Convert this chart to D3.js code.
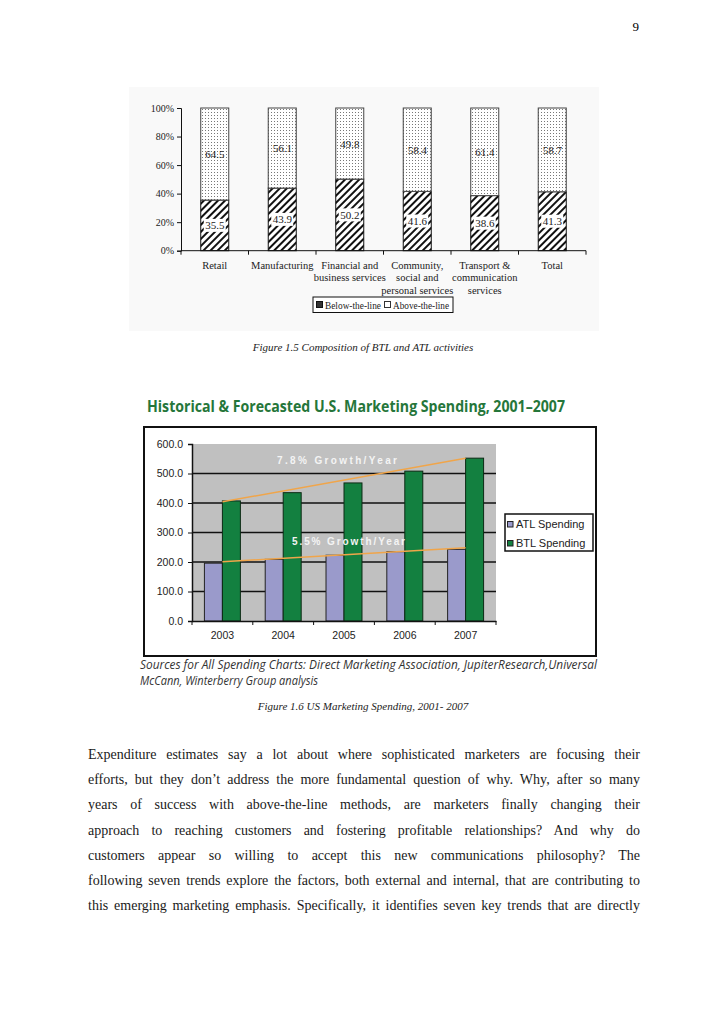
<!DOCTYPE html>
<html>
<head>
<meta charset="utf-8">
<title>BTL and ATL spending</title>
<style>
  body { margin: 0; background: #fff; }
  .page { position: relative; width: 728px; height: 1030px; overflow: hidden; }
  svg { position: absolute; left: 0; top: 0; }
  .serif { font-family: 'Liberation Serif', 'Times New Roman', serif; }
  .sans { font-family: 'Liberation Sans', Arial, sans-serif; }
  .body-text {
    position: absolute; left: 88px; top: 742px; width: 552px;
    font-family: 'Liberation Serif', 'Times New Roman', serif;
    font-size: 14px; line-height: 25.2px; color: #1a1a1a;
  }
  .body-text div { text-align: justify; text-align-last: justify; white-space: nowrap; }
</style>
</head>
<body>
<div class="page">
  <svg width="728" height="1030"></svg>
  <div class="body-text"></div>
</div>

<script src="https://d3js.org/d3.v7.min.js"></script>
<script>
// ---- figure 1.5 data
const sectors = ["Retail", "Manufacturing", "Financial", "Community", "Transport", "Total"];
const sectorLines = [
  ["Retail"],
  ["Manufacturing"],
  ["Financial and", "business services"],
  ["Community,", "social and", "personal services"],
  ["Transport &", "communication", "services"],
  ["Total"]
];
const belowLine = [35.5, 43.9, 50.2, 41.6, 38.6, 41.3];
const aboveLine = [64.5, 56.1, 49.8, 58.4, 61.4, 58.7];
const pctTicks = [0, 20, 40, 60, 80, 100];

// ---- figure 1.6 data
const years = ["2003", "2004", "2005", "2006", "2007"];
const atlSpending = [196, 209, 223, 235, 243];
const btlSpending = [407, 435, 468, 508, 552];
const spendTicks = [0, 100, 200, 300, 400, 500, 600];
const btlTrend = [404, 552];   // 2003 -> 2007
const atlTrend = [201, 248];

const bodyLines = [
  "Expenditure estimates say a lot about where sophisticated marketers are focusing their",
  "efforts, but they don\u2019t address the more fundamental question of why. Why, after so  many",
  "years of success with above-the-line methods, are marketers finally changing their",
  "approach to reaching customers and fostering profitable relationships? And why do",
  "customers appear so willing to accept this new communications philosophy? The",
  "following seven trends explore the factors, both external and internal, that are contributing to",
  "this emerging marketing emphasis. Specifically, it identifies seven key trends that are directly"
];

let svg = d3.select("svg")

// page number
svg.append("text").attr("class", "serif")
  .attr("x", 639).attr("y", 31).attr("text-anchor", "end")
  .style("font-size", "13px").text("9")

// ================= figure 1.5 =================
let defs = svg.append("defs")
let hatch = defs.append("pattern")
  .attr("id", "hatch").attr("patternUnits", "userSpaceOnUse")
  .attr("width", 5).attr("height", 5)
  .attr("patternTransform", "rotate(45)")
hatch.append("rect").attr("width", 5).attr("height", 5).attr("fill", "#fff")
hatch.append("line").attr("x1", 1).attr("x2", 1).attr("y1", 0).attr("y2", 5)
  .attr("stroke", "#111").attr("stroke-width", 2)

let dots = defs.append("pattern")
  .attr("id", "dots").attr("patternUnits", "userSpaceOnUse")
  .attr("width", 3).attr("height", 3)
dots.append("rect").attr("width", 3).attr("height", 3).attr("fill", "#fff")
dots.append("rect").attr("x", 1).attr("y", 1).attr("width", 1).attr("height", 1).attr("fill", "#777")

svg.append("rect")
  .attr("x", 129).attr("y", 87).attr("width", 470).attr("height", 244)
  .attr("fill", "#f9f9f9")

let x1 = d3.scaleBand()
  .domain(sectors)
  .range([181, 586])
  .paddingInner(0.585)
  .paddingOuter(0.2925)

let y1 = d3.scaleLinear()
  .domain([0, 100])
  .range([250.7, 108])

let g1 = svg.append("g")

// stacked bars
let f1 = sectors.map((s, i) => ({ s, below: belowLine[i], above: aboveLine[i], lines: sectorLines[i] }))

g1.selectAll(".below").data(f1).join("rect")
  .attr("x", d => x1(d.s)).attr("width", x1.bandwidth())
  .attr("y", d => y1(d.below)).attr("height", d => y1(0) - y1(d.below))
  .attr("fill", "url(#hatch)").attr("stroke", "#111").attr("stroke-width", 1)

g1.selectAll(".above").data(f1).join("rect")
  .attr("x", d => x1(d.s)).attr("width", x1.bandwidth())
  .attr("y", d => y1(100)).attr("height", d => y1(d.below) - y1(100))
  .attr("fill", "url(#dots)").attr("stroke", "#444").attr("stroke-width", 1)

// value labels
f1.forEach(d => {
  let cx = x1(d.s) + x1.bandwidth() / 2
  let yb = y1(d.below / 2)
  g1.append("rect").attr("x", cx - 11).attr("y", yb - 6.5).attr("width", 22).attr("height", 13).attr("fill", "#fff")
  g1.append("text").attr("class", "serif").attr("x", cx).attr("y", yb + 4)
    .attr("text-anchor", "middle").style("font-size", "11px").attr("fill", "#222")
    .text(d.below)
  let ya = y1(d.below + d.above / 2)
  g1.append("text").attr("class", "serif").attr("x", cx).attr("y", ya + 4)
    .attr("text-anchor", "middle").style("font-size", "11px").attr("fill", "#222")
    .text(d.above)
})

// y axis
let y1Axis = g1.append("g")
  .attr("transform", "translate(181,0)")
  .call(d3.axisLeft(y1).tickValues(pctTicks).tickSize(4).tickPadding(3).tickFormat(d => d + "%"))
y1Axis.select(".domain").attr("stroke", "#111")
y1Axis.selectAll("line").attr("stroke", "#111")
y1Axis.selectAll("text").attr("class", "serif").style("font-size", "10px").attr("fill", "#222")

// x axis (ticks between categories)
let x1Axis = g1.append("g").attr("transform", `translate(0,${y1(0)})`)
x1Axis.append("line").attr("x1", 181).attr("x2", 586).attr("stroke", "#111")
d3.range(sectors.length + 1).forEach(i => {
  let xx = 181 + i * x1.step()
  x1Axis.append("line").attr("x1", xx).attr("x2", xx).attr("y1", 0).attr("y2", 4).attr("stroke", "#111")
})
f1.forEach(d => {
  let t = x1Axis.append("text").attr("class", "serif")
    .attr("text-anchor", "middle").style("font-size", "10.5px").attr("fill", "#222")
  d.lines.forEach((ln, k) => {
    t.append("tspan").attr("x", x1(d.s) + x1.bandwidth() / 2).attr("y", 18 + k * 12.5).text(ln)
  })
})

// legend
let leg1 = g1.append("g")
leg1.append("rect").attr("x", 313).attr("y", 297).attr("width", 140).attr("height", 15.5)
  .attr("fill", "#fff").attr("stroke", "#111")
leg1.append("rect").attr("x", 316.5).attr("y", 301.5).attr("width", 6).attr("height", 6)
  .attr("fill", "#333").attr("stroke", "#111")
leg1.append("text").attr("class", "serif").attr("x", 325).attr("y", 308.5)
  .style("font-size", "10.5px").attr("fill", "#222")
  .attr("textLength", 56).attr("lengthAdjust", "spacingAndGlyphs").text("Below-the-line")
leg1.append("rect").attr("x", 384.5).attr("y", 301.5).attr("width", 6).attr("height", 6)
  .attr("fill", "#fff").attr("stroke", "#333")
leg1.append("text").attr("class", "serif").attr("x", 393).attr("y", 308.5)
  .style("font-size", "10.5px").attr("fill", "#222")
  .attr("textLength", 56).attr("lengthAdjust", "spacingAndGlyphs").text("Above-the-line")

svg.append("text").attr("class", "serif")
  .attr("x", 363).attr("y", 351).attr("text-anchor", "middle")
  .style("font-size", "11px").style("font-style", "italic").attr("fill", "#222")
  .text("Figure 1.5 Composition of BTL and ATL activities")

// ================= figure 1.6 =================
svg.append("text")
  .attr("x", 147).attr("y", 412)
  .style("font-family", "'Open Sans', 'Noto Sans', sans-serif")
  .style("font-size", "16px").style("font-weight", 700).attr("fill", "#25763a")
  .attr("textLength", 418).attr("lengthAdjust", "spacingAndGlyphs")
  .text("Historical & Forecasted U.S. Marketing Spending, 2001\u20132007")

svg.append("rect")
  .attr("x", 144).attr("y", 427).attr("width", 452).attr("height", 229)
  .attr("fill", "#fff").attr("stroke", "#111").attr("stroke-width", 2)

let x2 = d3.scaleBand().domain(years).range([192, 496])
let xSub = d3.scaleBand().domain(["ATL", "BTL"]).range([0, x2.bandwidth()]).paddingOuter(0.69)
let y2 = d3.scaleLinear().domain([0, 600]).range([621, 444])

let g2 = svg.append("g")
g2.append("rect").attr("x", 192).attr("y", y2(600)).attr("width", 304).attr("height", y2(0) - y2(600))
  .attr("fill", "#c0c0c0")

// gridlines
g2.selectAll(".grid").data(spendTicks.filter(d => d > 0 && d < 600)).join("line")
  .attr("x1", 192).attr("x2", 496)
  .attr("y1", d => y2(d)).attr("y2", d => y2(d))
  .attr("stroke", "#111").attr("stroke-width", 1.5)

let f2 = years.map((yr, i) => ({ yr, atl: atlSpending[i], btl: btlSpending[i] }))

g2.selectAll(".atl").data(f2).join("rect")
  .attr("x", d => x2(d.yr) + xSub("ATL")).attr("width", xSub.bandwidth())
  .attr("y", d => y2(d.atl)).attr("height", d => y2(0) - y2(d.atl))
  .attr("fill", "#9a9acb").attr("stroke", "#222").attr("stroke-width", 1)

g2.selectAll(".btl").data(f2).join("rect")
  .attr("x", d => x2(d.yr) + xSub("BTL")).attr("width", xSub.bandwidth())
  .attr("y", d => y2(d.btl)).attr("height", d => y2(0) - y2(d.btl))
  .attr("fill", "#138040").attr("stroke", "#0c2a14").attr("stroke-width", 1)

// trend lines
let cx = yr => x2(yr) + x2.bandwidth() / 2
const first = years[0], last = years[years.length - 1]
g2.append("line")
  .attr("x1", cx(first)).attr("y1", y2(btlTrend[0]))
  .attr("x2", cx(last)).attr("y2", y2(btlTrend[1]))
  .attr("stroke", "#f0a54a").attr("stroke-width", 1.5)
g2.append("line")
  .attr("x1", cx(first)).attr("y1", y2(atlTrend[0]))
  .attr("x2", cx(last)).attr("y2", y2(atlTrend[1]))
  .attr("stroke", "#f0a54a").attr("stroke-width", 1.5)

g2.append("text").attr("class", "sans")
  .attr("x", 277).attr("y", 464)
  .style("font-size", "10px").style("font-weight", 700).attr("fill", "#f4f4f4")
  .attr("textLength", 120).attr("lengthAdjust", "spacing")
  .text("7.8%  Growth/Year")
g2.append("text").attr("class", "sans")
  .attr("x", 292).attr("y", 545)
  .style("font-size", "10px").style("font-weight", 700).attr("fill", "#f4f4f4")
  .attr("textLength", 113).attr("lengthAdjust", "spacing")
  .text("5.5% Growth/Year")

// axes
let y2Axis = g2.append("g").attr("transform", "translate(192,0)")
  .call(d3.axisLeft(y2).tickValues(spendTicks).tickSize(4).tickPadding(5).tickFormat(d3.format(".1f")))
y2Axis.select(".domain").attr("stroke", "#111").attr("stroke-width", 1.5)
y2Axis.selectAll("line").attr("stroke", "#111")
y2Axis.selectAll("text").attr("class", "sans").style("font-size", "10.5px").attr("fill", "#222")

let x2Axis = g2.append("g").attr("transform", `translate(0,${y2(0)})`)
  .call(d3.axisBottom(x2).tickSize(0).tickPadding(11))
x2Axis.select(".domain").attr("stroke", "#111").attr("stroke-width", 1.5)
x2Axis.selectAll("text").attr("class", "sans").style("font-size", "10.5px").attr("fill", "#222")
d3.range(years.length + 1).forEach(i => {
  let xx = 192 + i * x2.step()
  x2Axis.append("line").attr("x1", xx).attr("x2", xx).attr("y1", 0).attr("y2", 4).attr("stroke", "#111")
})

// legend
let leg2 = g2.append("g")
leg2.append("rect").attr("x", 505).attr("y", 514).attr("width", 88).attr("height", 37)
  .attr("fill", "#fff").attr("stroke", "#111").attr("stroke-width", 1.5)
leg2.append("rect").attr("x", 507.5).attr("y", 521.5).attr("width", 5.5).attr("height", 5.5)
  .attr("fill", "#9a9acb").attr("stroke", "#222")
leg2.append("text").attr("class", "sans").attr("x", 516).attr("y", 528)
  .style("font-size", "11px").attr("fill", "#222").text("ATL Spending")
leg2.append("rect").attr("x", 507.5).attr("y", 540.5).attr("width", 5.5).attr("height", 5.5)
  .attr("fill", "#138040").attr("stroke", "#222")
leg2.append("text").attr("class", "sans").attr("x", 516).attr("y", 547)
  .style("font-size", "11px").attr("fill", "#222").text("BTL Spending")

// sources
svg.append("text")
  .attr("x", 140).attr("y", 669)
  .style("font-family", "'Open Sans', 'Noto Sans', sans-serif")
  .style("font-size", "12px").style("font-style", "italic").attr("fill", "#333")
  .attr("textLength", 457).attr("lengthAdjust", "spacingAndGlyphs")
  .text("Sources for All Spending Charts: Direct Marketing Association, JupiterResearch,Universal")
svg.append("text")
  .attr("x", 140).attr("y", 685)
  .style("font-family", "'Open Sans', 'Noto Sans', sans-serif")
  .style("font-size", "12px").style("font-style", "italic").attr("fill", "#333")
  .attr("textLength", 178).attr("lengthAdjust", "spacingAndGlyphs")
  .text("McCann, Winterberry Group analysis")

svg.append("text").attr("class", "serif")
  .attr("x", 363).attr("y", 710).attr("text-anchor", "middle")
  .style("font-size", "11px").style("font-style", "italic").attr("fill", "#222")
  .text("Figure 1.6 US Marketing Spending, 2001- 2007")

// body text
d3.select(".body-text").selectAll("div").data(bodyLines).join("div").text(d => d)
</script>
</body>
</html>
